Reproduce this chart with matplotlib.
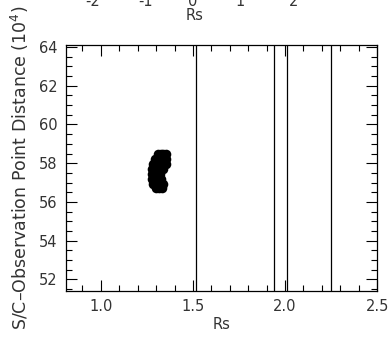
import matplotlib
matplotlib.use("Agg")
import matplotlib.pyplot as plt
from matplotlib.ticker import MultipleLocator, FormatStrFormatter

# vertical marker lines (Rs)
line_rs = [1.516, 1.94, 2.01, 2.25]

# blob of observation points, one list per row
rows_dist = [58.45, 58.20, 57.95, 57.70, 57.45, 57.20, 56.95, 56.70]
rows_rs = [
    [1.31, 1.325, 1.34, 1.355],
    [1.295, 1.31, 1.325, 1.34, 1.355],
    [1.285, 1.30, 1.315, 1.33, 1.345, 1.355],
    [1.28, 1.295, 1.31, 1.325, 1.335],
    [1.28, 1.295, 1.31, 1.32],
    [1.28, 1.295, 1.31, 1.325],
    [1.285, 1.30, 1.315, 1.33, 1.34],
    [1.30, 1.315, 1.33],
]

# clipped tick labels of the panel above
top_labels = ["-2", "-1", "0", "1", "2"]
top_label_x = [0.237, 0.372, 0.492, 0.612, 0.750]

rs = [r for row in rows_rs for r in row]
dist = [d for d, row in zip(rows_dist, rows_rs) for _ in row]

plt.rcParams["font.family"] = ["DejaVu Sans"]
fig = plt.figure(figsize=(3.92, 3.39), dpi=100)
ax = fig.add_axes([0.168, 0.1416, 0.794, 0.7254])

ax.scatter(rs, dist, s=48, c="black", marker="o", linewidths=0)
for x in line_rs:
    ax.axvline(x, color="black", lw=0.9)

ax.set_xlim(0.81, 2.50)
ax.set_ylim(51.4, 64.1)
ax.xaxis.set_major_locator(MultipleLocator(0.5))
ax.xaxis.set_minor_locator(MultipleLocator(0.1))
ax.yaxis.set_major_locator(MultipleLocator(2))
ax.yaxis.set_minor_locator(MultipleLocator(0.5))
ax.xaxis.set_major_formatter(FormatStrFormatter("%.1f"))
ax.tick_params(which="both", direction="in", top=True, right=True,
               labelsize=10.5, labelcolor="#333333", color="black",
               width=0.8, pad=6)
ax.tick_params(which="major", length=8)
ax.tick_params(which="minor", length=4)
for s in ax.spines.values():
    s.set_linewidth(0.9)

ax.set_xlabel("Rs", fontsize=10.5, labelpad=2, color="#333333")
fig.text(0.051, 0.505, "S/C\u2013Observation Point Distance (10$^4$)",
         rotation=90, ha="center", va="center", fontsize=12.5,
         color="#333333")

for lab, x in zip(top_labels, top_label_x):
    fig.text(x, 0.981, lab, ha="center", va="baseline", fontsize=10.5,
             color="#333333")
fig.text(0.497, 0.941, "Rs", ha="center", va="baseline", fontsize=10.5,
         color="#333333")

fig.savefig("out.png", dpi=100)
